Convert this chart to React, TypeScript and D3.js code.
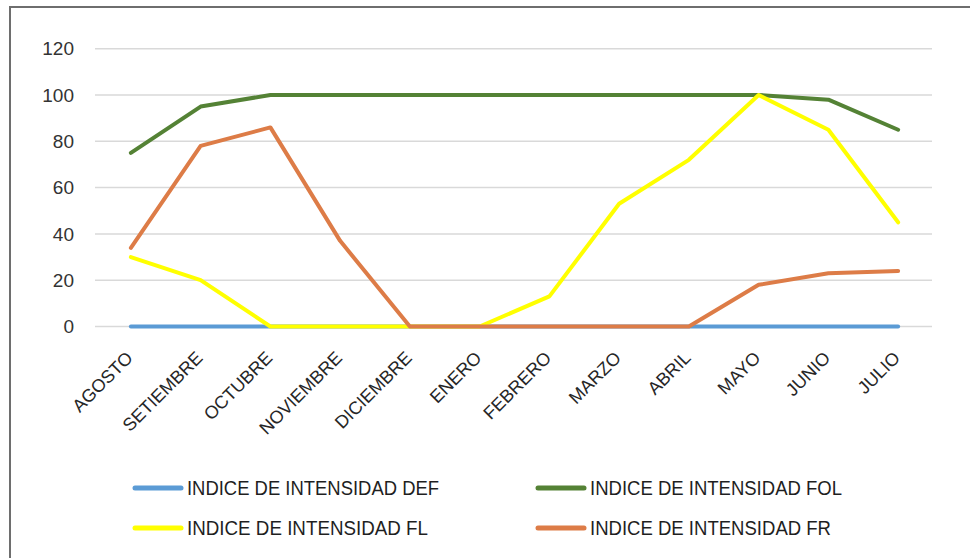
import * as d3 from "d3";
import React from "react";

const months = [
  "AGOSTO", "SETIEMBRE", "OCTUBRE", "NOVIEMBRE", "DICIEMBRE", "ENERO",
  "FEBRERO", "MARZO", "ABRIL", "MAYO", "JUNIO", "JULIO",
];

const def = [0, 0, 0, 0, 0, 0, 0, 0, 0, 0, 0, 0];
const fol = [75, 95, 100, 100, 100, 100, 100, 100, 100, 100, 98, 85];
const fl = [30, 20, 0, 0, 0, 0, 13, 53, 72, 100, 85, 45];
const fr = [34, 78, 86, 37, 0, 0, 0, 0, 0, 18, 23, 24];

const yTicks = [0, 20, 40, 60, 80, 100, 120];

// draw order matters: FR sits on top
const series = [
  { name: "INDICE DE INTENSIDAD DEF", values: def, color: "#5b9bd5" },
  { name: "INDICE DE INTENSIDAD FOL", values: fol, color: "#548235" },
  { name: "INDICE DE INTENSIDAD FL", values: fl, color: "#ffff00" },
  { name: "INDICE DE INTENSIDAD FR", values: fr, color: "#dd7c47" },
];

const W = 970;
const H = 558;
const font = "'Liberation Sans', Arial, sans-serif";

export default function App() {
  const x = d3.scaleBand<string>().domain(months).range([96, 933]);
  const y = d3.scaleLinear().domain([0, 120]).range([326.5, 48.7]);
  const cx = (m: string) => (x(m) ?? 0) + x.bandwidth() / 2;

  const line = d3
    .line<number>()
    .x((_, i) => cx(months[i]))
    .y((v) => y(v));

  // legend: two columns, two rows
  const legendPos = [
    { x: 134, y: 488 },
    { x: 537, y: 488 },
    { x: 134, y: 528 },
    { x: 537, y: 528 },
  ];

  return (
    <svg
      width={W}
      height={H}
      style={{ position: "absolute", left: 0, top: 0, background: "#fff" }}
      fontFamily={font}
    >
      <rect x={10} y={7} width={1000} height={600} fill="#fff" stroke="#6e6e6e" strokeWidth={2} />

      <g>
        {yTicks.map((t) => (
          <g key={t}>
            <line x1={95} x2={932} y1={y(t)} y2={y(t)} stroke="#d9d9d9" strokeWidth={1.5} />
            <text x={74} y={y(t)} dy="0.35em" textAnchor="end" fontSize={19} fill="#333">
              {t}
            </text>
          </g>
        ))}
      </g>

      <g>
        {months.map((m) => (
          <text
            key={m}
            transform={`translate(${cx(m) + 3},359) rotate(-45)`}
            textAnchor="end"
            fontSize={18}
            fill="#262626"
          >
            {m}
          </text>
        ))}
      </g>

      <g fill="none">
        {series.map((s) => (
          <path
            key={s.name}
            d={line(s.values) ?? ""}
            stroke={s.color}
            strokeWidth={4}
            strokeLinejoin="round"
            strokeLinecap="round"
          />
        ))}
      </g>

      <g>
        {series.map((s, i) => {
          const p = legendPos[i];
          return (
            <g key={s.name} transform={`translate(${p.x},${p.y})`}>
              <line x1={1} x2={47} y1={0} y2={0} stroke={s.color} strokeWidth={5} strokeLinecap="round" />
              <text
                x={53}
                y={0}
                dy="0.36em"
                fontSize={20}
                fill="#1f1f1f"
                transform="scale(1,1)"
                textLength={s.name.length > 23 ? 252 : 241}
                lengthAdjust="spacingAndGlyphs"
              >
                {s.name}
              </text>
            </g>
          );
        })}
      </g>
    </svg>
  );
}
